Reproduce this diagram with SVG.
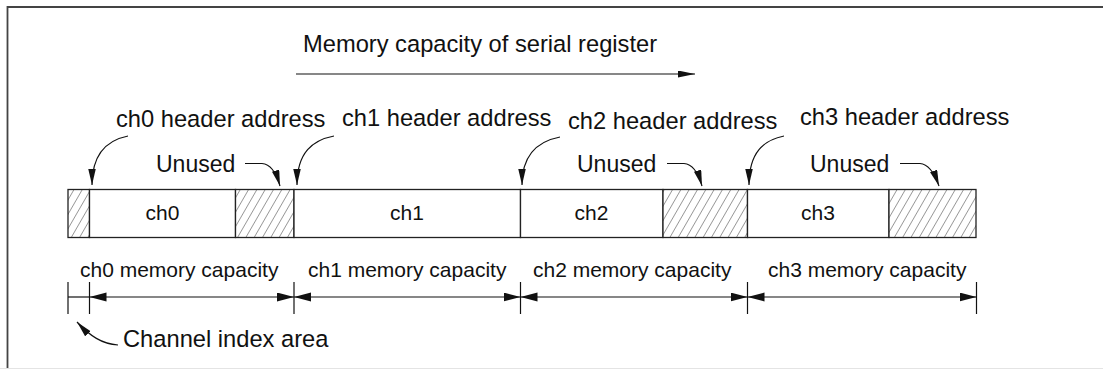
<svg xmlns="http://www.w3.org/2000/svg" width="1103" height="369" viewBox="0 0 1103 369">
<style>
text{font-family:"Liberation Sans",Arial,sans-serif;fill:#111}
.big{font-size:23.7px}
.mid{font-size:23px}
.sm{font-size:21px}
.cell{fill:#fff;stroke:#222;stroke-width:1.3}
.hatch{fill:url(#hp);stroke:#222;stroke-width:1.3}
.ln{fill:none;stroke:#111;stroke-width:1.2}
.tick{stroke:#111;stroke-width:1.2}
</style>
<defs>
<pattern id="hp" patternUnits="userSpaceOnUse" width="7.2" height="20" patternTransform="rotate(30)">
<rect width="7.2" height="20" fill="#fff"/>
<line x1="0" y1="0" x2="0" y2="20" stroke="#444" stroke-width="1"/>
</pattern>
<marker id="ah" markerUnits="userSpaceOnUse" markerWidth="17" markerHeight="8" refX="16" refY="3.75" orient="auto">
<path d="M0,0 L16,3.75 L0,7.5 z" fill="#111"/>
</marker>
<marker id="dh" markerUnits="userSpaceOnUse" markerWidth="18" markerHeight="10" refX="17" refY="4.5" orient="auto-start-reverse">
<path d="M0,0 L17,4.5 L0,9 z" fill="#111"/>
</marker>
<marker id="th" markerUnits="userSpaceOnUse" markerWidth="18" markerHeight="8" refX="17" refY="3.5" orient="auto">
<path d="M0,0 L17,3.5 L0,7 z" fill="#111"/>
</marker>
</defs>
<rect width="1103" height="369" fill="#fff"/>
<path d="M7.5,369 V7 H1103" fill="none" stroke="#444" stroke-width="1.8"/>
<line x1="0" y1="368.5" x2="1103" y2="368.5" stroke="#e4e4e4" stroke-width="1"/>

<g id="title"><text class="big" x="303" y="52">Memory capacity of serial register</text></g>

<g id="idx-area"><rect class="hatch" x="68" y="189.5" width="21.5" height="48"/></g>
<g id="ch0"><rect class="cell" x="89.5" y="189.5" width="146" height="48"/><text class="sm" x="162.5" y="220" text-anchor="middle">ch0</text></g>
<g id="unused0"><rect class="hatch" x="235.5" y="189.5" width="58.5" height="48"/></g>
<g id="ch1"><rect class="cell" x="294" y="189.5" width="226.5" height="48"/><text class="sm" x="407" y="220" text-anchor="middle">ch1</text></g>
<g id="ch2"><rect class="cell" x="520.5" y="189.5" width="142.5" height="48"/><text class="sm" x="591.5" y="220" text-anchor="middle">ch2</text></g>
<g id="unused2"><rect class="hatch" x="663" y="189.5" width="84.5" height="48"/></g>
<g id="ch3"><rect class="cell" x="747.5" y="189.5" width="141.5" height="48"/><text class="sm" x="818" y="220" text-anchor="middle">ch3</text></g>
<g id="unused3"><rect class="hatch" x="889" y="189.5" width="87" height="48"/></g>

<g id="hdr0"><text class="big" x="116" y="127">ch0 header address</text></g>
<g id="hdr1"><text class="big" x="342" y="126">ch1 header address</text></g>
<g id="hdr2"><text class="big" x="568" y="129">ch2 header address</text></g>
<g id="hdr3"><text class="big" x="800" y="125">ch3 header address</text></g>

<g id="lbl-unused0"><text class="mid" x="156" y="172">Unused</text></g>
<g id="lbl-unused2"><text class="mid" x="577" y="172">Unused</text></g>
<g id="lbl-unused3"><text class="mid" x="810" y="172">Unused</text></g>

<g id="cap0"><text class="sm" x="80" y="277">ch0 memory capacity</text></g>
<g id="cap1"><text class="sm" x="308" y="277">ch1 memory capacity</text></g>
<g id="cap2"><text class="sm" x="533" y="277">ch2 memory capacity</text></g>
<g id="cap3"><text class="sm" x="768" y="277">ch3 memory capacity</text></g>

<g id="lbl-index"><text class="big" x="123" y="347">Channel index area</text></g>

<g id="connectors">
<line class="ln" x1="296" y1="74" x2="695" y2="74" marker-end="url(#th)"/>
<path class="ln" d="M128,136 C108,140 92,152 92,185" marker-end="url(#ah)"/>
<path class="ln" d="M334,136 C313,140 297,152 297,185" marker-end="url(#ah)"/>
<path class="ln" d="M560,137 C539,141 522,153 522,185" marker-end="url(#ah)"/>
<path class="ln" d="M784,136 C764,140 749,152 749,185" marker-end="url(#ah)"/>
<path class="ln" d="M245,163.5 L262,163.5 C270,164 276,172 280,186" marker-end="url(#ah)"/>
<path class="ln" d="M667,163.5 L684,163.5 C692,164 698,172 702,186" marker-end="url(#ah)"/>
<path class="ln" d="M900,163.5 L920,163.5 C928,164 934,172 939,186" marker-end="url(#ah)"/>
<g class="tick">
<line x1="68" y1="282" x2="68" y2="314"/>
<line x1="89.5" y1="282" x2="89.5" y2="314"/>
<line x1="294" y1="282" x2="294" y2="314"/>
<line x1="520.5" y1="282" x2="520.5" y2="314"/>
<line x1="747.5" y1="282" x2="747.5" y2="314"/>
<line x1="976.5" y1="282" x2="976.5" y2="314"/>
</g>
<line class="ln" x1="68" y1="297" x2="89.5" y2="297"/>
<line class="ln" x1="89.5" y1="297" x2="294" y2="297" marker-start="url(#dh)" marker-end="url(#dh)"/>
<line class="ln" x1="294" y1="297" x2="520.5" y2="297" marker-start="url(#dh)" marker-end="url(#dh)"/>
<line class="ln" x1="520.5" y1="297" x2="747.5" y2="297" marker-start="url(#dh)" marker-end="url(#dh)"/>
<line class="ln" x1="747.5" y1="297" x2="976.5" y2="297" marker-start="url(#dh)" marker-end="url(#dh)"/>
<path class="ln" d="M118,345 C102,344 90,336 77,322" marker-end="url(#ah)"/>
</g>
</svg>
